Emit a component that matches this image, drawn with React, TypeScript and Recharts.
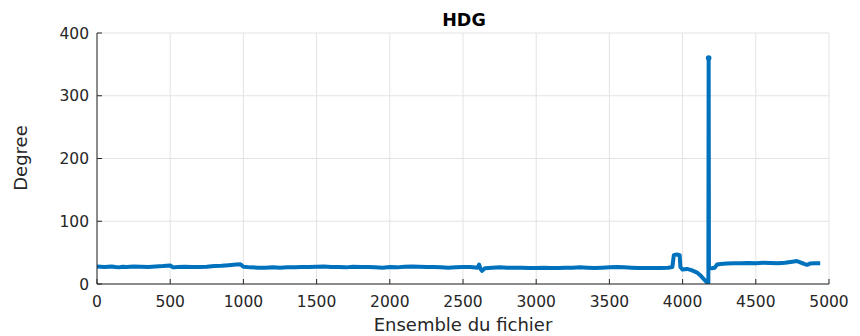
import React from 'react';
import { LineChart, Line, XAxis, YAxis, CartesianGrid } from 'recharts';

const sampleIndex = [
  0, 25, 50, 75, 100, 125, 150, 175, 200, 250, 300, 350, 400, 450, 500, 520, 550, 600, 650, 700, 750, 800, 850, 900, 950, 980,
  1000, 1050, 1100, 1150, 1200, 1250, 1300, 1350, 1400, 1450, 1500, 1550, 1600, 1650, 1700, 1750, 1800, 1850,
  1900, 1950, 2000, 2050, 2100, 2150, 2200, 2250, 2300, 2350, 2400, 2450, 2500, 2550, 2600, 2610, 2620, 2630,
  2650, 2700, 2750, 2800, 2850, 2900, 2950, 3000, 3050, 3100, 3150, 3200, 3250, 3300, 3350, 3400, 3450, 3500,
  3550, 3600, 3650, 3700, 3750, 3800, 3850, 3900, 3930, 3940, 3960, 3980, 3985, 4000, 4030, 4060, 4080, 4100,
  4120, 4140, 4160, 4170, 4176, 4178, 4180, 4200, 4220, 4235, 4260, 4300, 4350, 4400, 4450, 4500, 4550, 4600,
  4650, 4700, 4750, 4780, 4800, 4830, 4850, 4870, 4900, 4940,
];

const hdgValues = [
  28, 27.5, 27, 27.5, 28, 27, 26.5, 27.5, 27, 28, 27.5, 27, 28, 28.5, 29.5, 26.5, 27, 27.5, 27, 27, 27.5, 28.5, 29, 30, 31, 31.5,
  27.5, 26.5, 26, 26, 26.5, 26, 26.5, 26.5, 27, 27, 27.5, 28, 27, 27, 26.5, 27.5, 27, 27,
  26.5, 26, 27, 26.5, 27.5, 28, 27.5, 27, 27, 26.5, 26, 26.5, 27, 27, 26, 31, 24, 21,
  25, 26, 26.5, 26, 26, 26, 25.5, 25.5, 26, 25.5, 25.5, 26, 26, 26.5, 26, 25.5, 26, 26.5,
  27, 26.5, 26, 25.5, 25.5, 25.5, 25.5, 26, 27, 46, 47, 46, 27, 23, 24, 22, 20, 18,
  14, 9, 4, 2, 2, 360, 25, 25, 26, 31, 32, 32.5, 33, 33, 33.5, 33, 34, 33.5,
  33, 34, 35.5, 36.5, 35, 32, 30.5, 32.5, 33, 33,
];

const xTicks = [0, 500, 1000, 1500, 2000, 2500, 3000, 3500, 4000, 4500, 5000];
const yTicks = [0, 100, 200, 300, 400];

const chartTitle = 'HDG';
const xLabel = 'Ensemble du fichier';
const yLabel = 'Degree';

const data = sampleIndex.map((x, i) => ({ x, hdg: hdgValues[i] }));

const AXIS = '#262626';
const FONT = 'DejaVu Sans';
const TICK_FS = 15.5;

const PeakDot = (props: any) => {
  const { cx, cy, payload, index } = props;
  if (payload && payload.hdg > 300) {
    return <circle key={`d${index}`} cx={cx} cy={cy} r={2.8} fill="#0072BD" stroke="none" />;
  }
  return <g key={`d${index}`} />;
};

const XTick = (props: any) => {
  const { x, y, payload } = props;
  return (
    <text x={x} y={y + 11} textAnchor="middle" fontFamily={FONT} fontSize={TICK_FS} fill={AXIS}>
      {payload.value}
    </text>
  );
};

const YTick = (props: any) => {
  const { x, y, payload } = props;
  return (
    <text x={x} y={y + 5.5} textAnchor="end" fontFamily={FONT} fontSize={TICK_FS} fill={AXIS}>
      {payload.value}
    </text>
  );
};

export default function App() {
  return (
    <div style={{ position: 'absolute', left: 0, top: 0, width: 860, height: 336, background: '#fff' }}>
      <LineChart
        width={860}
        height={336}
        data={data}
        margin={{ top: 33, right: 31, bottom: 12, left: 37 }}
      >
        <CartesianGrid stroke="#e3e3e3" strokeWidth={1} horizontal vertical />
        <XAxis
          dataKey="x"
          type="number"
          domain={[0, 5000]}
          ticks={xTicks}
          interval={0}
          height={40}
          stroke={AXIS}
          tickSize={-5}
          tickMargin={17}
          tick={XTick}
          allowDataOverflow
        />
        <XAxis
          xAxisId="top"
          orientation="top"
          dataKey="x"
          type="number"
          domain={[0, 5000]}
          ticks={xTicks}
          interval={0}
          height={0}
          stroke={AXIS}
          tickSize={-5}
          tickFormatter={() => ''}
        />
        <YAxis
          type="number"
          domain={[0, 400]}
          ticks={yTicks}
          interval={0}
          width={60}
          stroke={AXIS}
          tickSize={-5}
          tickMargin={13}
          tick={YTick}
          allowDataOverflow
        />
        <YAxis
          yAxisId="right"
          orientation="right"
          type="number"
          domain={[0, 400]}
          ticks={yTicks}
          interval={0}
          width={0}
          stroke={AXIS}
          tickSize={-5}
          tickFormatter={() => ''}
        />
        <Line
          type="linear"
          dataKey="hdg"
          stroke="#0072BD"
          strokeWidth={4}
          strokeLinejoin="round"
          dot={PeakDot}
          activeDot={false}
          isAnimationActive={false}
        />
        <text x={464} y={26} textAnchor="middle" fontFamily={FONT} fontWeight="bold" fontSize={17.5} fill="#000">
          {chartTitle}
        </text>
        <text x={463} y={331} textAnchor="middle" fontFamily={FONT} fontSize={18} fill={AXIS}>
          {xLabel}
        </text>
        <text
          x={27}
          y={158}
          textAnchor="middle"
          fontFamily={FONT}
          fontSize={18}
          fill={AXIS}
          transform="rotate(-90 27 158)"
        >
          {yLabel}
        </text>
      </LineChart>
    </div>
  );
}
